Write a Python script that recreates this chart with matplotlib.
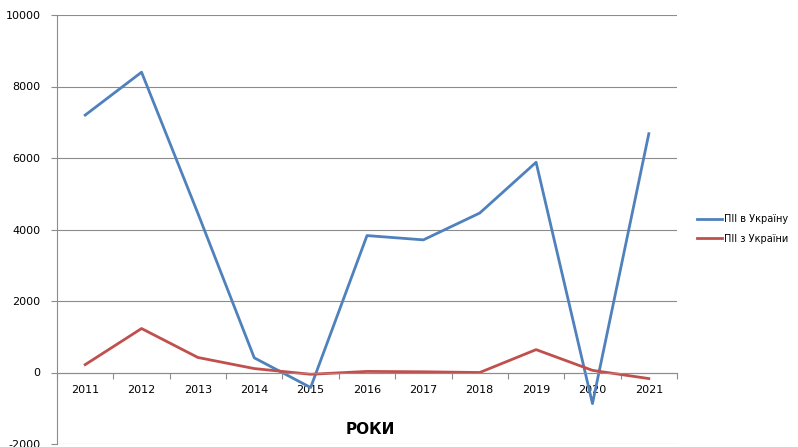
import numpy as np
import matplotlib
matplotlib.use("Agg")
import matplotlib.pyplot as plt
from matplotlib.ticker import FixedLocator, NullFormatter, FixedFormatter

years = ["2011", "2012", "2013", "2014", "2015", "2016", "2017", "2018", "2019", "2020", "2021"]
fdi_in = [7200, 8400, 4450, 410, -420, 3830, 3710, 4460, 5880, -870, 6680]
fdi_out = [220, 1230, 420, 110, -50, 30, 20, 0, 640, 60, -170]

BLUE = "#4F81BD"
RED = "#C0504D"
GRID = "#8c8c8c"

plt.rcParams["font.family"] = ["DejaVu Sans"]
plt.rcParams["axes.unicode_minus"] = False

fig = plt.figure(figsize=(7.98, 4.47), dpi=100)
ax = fig.add_axes([57 / 798, 1 - 444 / 447, 620 / 798, 429 / 447])

x = np.arange(len(years))
ax.plot(x, fdi_in, color=BLUE, lw=2.0, label="ПІІ в Україну")
ax.plot(x, fdi_out, color=RED, lw=2.0, label="ПІІ з України")

ax.set_xlim(-0.5, len(years) - 0.5)
ax.set_ylim(-2000, 10000)
ax.set_yticks(range(-2000, 10001, 2000))
ax.yaxis.grid(True, color=GRID, lw=0.8)
ax.set_axisbelow(True)

ax.tick_params(axis="y", labelsize=8, length=4, color=GRID, pad=8)

# category axis drawn at zero, tick marks between categories
ax.spines["bottom"].set_position(("data", 0))
ax.spines["bottom"].set_color(GRID)
ax.spines["left"].set_color(GRID)
ax.spines["top"].set_visible(False)
ax.spines["right"].set_visible(False)
ax.xaxis.set_major_locator(FixedLocator(np.arange(-0.5, len(years), 1.0)))
ax.xaxis.set_major_formatter(NullFormatter())
ax.xaxis.set_minor_locator(FixedLocator(x))
ax.xaxis.set_minor_formatter(FixedFormatter(years))
ax.tick_params(axis="x", which="major", length=4, color=GRID, direction="out")
ax.tick_params(axis="x", which="minor", length=0, labelsize=8, pad=9)

fig.text(370 / 798, 1 - 430 / 447, "РОКИ", fontsize=11, fontweight="bold",
         ha="center", va="center")

fig.legend(loc="center left", bbox_to_anchor=(688 / 798, 1 - 229 / 447),
           frameon=False, fontsize=7, handlelength=2.6, handletextpad=0.2,
           labelspacing=1.0)

fig.savefig("out.png", dpi=100)
